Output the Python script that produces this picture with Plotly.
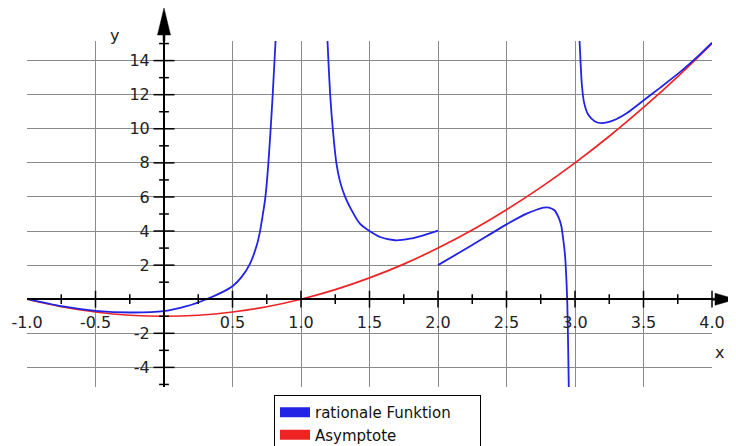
import plotly.graph_objects as go

# ---- data ----
# rationale Funktion (segments separated by None at poles / jump)
func_x = [-1.0, -0.75, -0.5, -0.24, 0.0, 0.165, 0.31, 0.43, 0.5, 0.567, 0.628, 0.677, 0.700, 0.720,
          0.737, 0.750, 0.762, 0.777, 0.792, 0.806, 0.816,
          None,
          1.192, 1.200, 1.213, 1.232, 1.258, 1.285, 1.320, 1.370, 1.430, 1.500, 1.577, 1.686, 1.796, 1.893, 2.0,
          None,
          2.0, 2.25, 2.5, 2.647, 2.72, 2.77, 2.81, 2.85, 2.88, 2.90, 2.915, 2.928, 2.938, 2.944, 2.95, 2.955,
          None,
          3.032, 3.040, 3.050, 3.066, 3.097, 3.146, 3.195, 3.28, 3.377, 3.49, 3.62, 3.77, 3.91, 4.0]
func_y = [0.02, -0.41, -0.68, -0.78, -0.70, -0.41, 0.0, 0.43, 0.76, 1.31, 2.09, 3.16, 3.95, 4.9,
          5.8, 6.8, 8.0, 9.8, 11.8, 13.9, 15.4,
          None,
          15.4, 14.0, 12.0, 10.0, 8.0, 6.9, 6.05, 5.21, 4.43, 4.0, 3.65, 3.46, 3.55, 3.75, 4.02,
          None,
          2.0, 3.18, 4.39, 5.02, 5.25, 5.37, 5.38, 5.22, 4.8, 4.3, 3.46, 2.5, 1.0, -0.3, -2.8, -5.4,
          None,
          15.4, 14.0, 12.6, 11.55, 10.82, 10.43, 10.33, 10.49, 10.91, 11.6, 12.4, 13.35, 14.35, 15.05]

# Asymptote
asym_x = [-1.0, -0.75, -0.5, -0.25, 0.0, 0.25, 0.5, 0.75, 1.0, 1.25, 1.5, 1.75, 2.0, 2.25, 2.5,
          2.75, 3.0, 3.25, 3.5, 3.75, 4.0]
asym_y = [0.0, -0.44, -0.75, -0.94, -1.0, -0.94, -0.75, -0.44, 0.0, 0.56, 1.25, 2.06, 3.0, 4.06,
          5.25, 6.56, 8.0, 9.56, 11.25, 13.06, 15.0]

# ticks
x_tickvals = [-1.0, -0.5, 0.5, 1.0, 1.5, 2.0, 2.5, 3.0, 3.5, 4.0]
x_ticktext = ["-1.0", "-0.5", "0.5", "1.0", "1.5", "2.0", "2.5", "3.0", "3.5", "4.0"]
x_minor = [-0.75, -0.25, 0.25, 0.75, 1.25, 1.75, 2.25, 2.75, 3.25, 3.75]
y_tickvals = [-4, -2, 2, 4, 6, 8, 10, 12, 14]
y_ticktext = ["-4", "-2", "2", "4", "6", "8", "10", "12", "14"]
y_minor = [-5, -3, -1, 1, 3, 5, 7, 9, 11, 13, 15]

series_names = ["rationale Funktion", "Asymptote"]
BLUE = "#2323e6"
RED = "#ee2424"

X_RANGE = [-1.0, 4.0]
Y_RANGE = [-5.15, 15.15]

fig = go.Figure()

# curves
fig.add_trace(go.Scatter(x=asym_x, y=asym_y, mode="lines", line=dict(color=RED, width=1.7, shape="spline", smoothing=0.8),
                         showlegend=False, hoverinfo="skip"))
fig.add_trace(go.Scatter(x=func_x, y=func_y, mode="lines", line=dict(color=BLUE, width=1.8, shape="spline", smoothing=0.7),
                         connectgaps=False, showlegend=False, hoverinfo="skip"))

# tick marks crossing the axes
x_major_marks = [v for v in x_tickvals if v > -1]
fig.add_trace(go.Scatter(x=x_major_marks, y=[0] * len(x_major_marks), mode="markers",
                         marker=dict(symbol="line-ns", size=12, line=dict(color="black", width=1.5)),
                         cliponaxis=False, showlegend=False, hoverinfo="skip"))
fig.add_trace(go.Scatter(x=x_minor, y=[0] * len(x_minor), mode="markers",
                         marker=dict(symbol="line-ns", size=7, line=dict(color="black", width=1.5)),
                         cliponaxis=False, showlegend=False, hoverinfo="skip"))
fig.add_trace(go.Scatter(x=[0] * len(y_tickvals), y=y_tickvals, mode="markers",
                         marker=dict(symbol="line-ew", size=15, line=dict(color="black", width=1.5)),
                         cliponaxis=False, showlegend=False, hoverinfo="skip"))
fig.add_trace(go.Scatter(x=[0] * len(y_minor), y=y_minor, mode="markers",
                         marker=dict(symbol="line-ew", size=7, line=dict(color="black", width=1.5)),
                         cliponaxis=False, showlegend=False, hoverinfo="skip"))

# legend entries
for name, col in zip(series_names, [BLUE, RED]):
    fig.add_trace(go.Scatter(x=[None], y=[None], mode="lines", name=name + "\u00a0" * 5,
                             line=dict(color=col, width=10)))

x_pos = (0 - X_RANGE[0]) / (X_RANGE[1] - X_RANGE[0])
y_pos = (0 - Y_RANGE[0]) / (Y_RANGE[1] - Y_RANGE[0])

# the page body adds an 8px offset; margins compensate so the plot lands where the reference has it
fig.update_layout(
    width=736, height=446, autosize=False,
    margin=dict(l=19, r=32, t=33, b=67, autoexpand=False),
    paper_bgcolor="white", plot_bgcolor="white",
    font=dict(family="DejaVu Sans", size=16, color="#222222"),
    xaxis=dict(range=X_RANGE, tickvals=x_tickvals, ticktext=x_ticktext,
               showgrid=True, gridcolor="#8a8a8a", gridwidth=1.4,
               zeroline=False, showline=True, linecolor="black", linewidth=2,
               anchor="free", position=y_pos, ticks="", ticklabelstandoff=9, automargin=False,
               tickfont=dict(family="DejaVu Sans", size=16, color="#222222"), fixedrange=True),
    yaxis=dict(range=Y_RANGE, tickvals=y_tickvals, ticktext=y_ticktext,
               showgrid=True, gridcolor="#8a8a8a", gridwidth=1.4,
               zeroline=False, showline=True, linecolor="black", linewidth=2,
               anchor="free", position=x_pos, ticks="", ticklabelstandoff=10, automargin=False,
               tickfont=dict(family="DejaVu Sans", size=16, color="#222222"), fixedrange=True),
    legend=dict(x=(274 - 27) / 685, y=(387 - 395) / 346, xanchor="left", yanchor="top",
                bordercolor="black", borderwidth=1, bgcolor="white",
                font=dict(family="DejaVu Sans", size=15, color="#111111"),
                tracegroupgap=0, itemwidth=30),
    showlegend=True,
)

# axis arrowheads (slender filled triangles, sized in pixels)
fig.add_shape(type="path", xref="x", yref="paper", xsizemode="pixel", ysizemode="pixel",
              xanchor=0, yanchor=1.0,
              path="M -1 0 L -1 6 L -6.5 6 L 0 33 L 6.5 6 L 1 6 L 1 0 Z",
              fillcolor="black", line=dict(color="black", width=0.5), layer="above")
fig.add_shape(type="path", xref="paper", yref="y", xsizemode="pixel", ysizemode="pixel",
              xanchor=1.0, yanchor=0,
              path="M 0 -1 L 3 -1 L 3 -6 L 24 0 L 3 6 L 3 1 L 0 1 Z",
              fillcolor="black", line=dict(color="black", width=0.5), layer="above")
# axis titles
fig.add_annotation(x=-0.358, y=1.017, xref="x", yref="paper", text="y", showarrow=False,
                   font=dict(family="DejaVu Sans", size=16, color="#222222"), yanchor="middle")
fig.add_annotation(x=1.02, y=-3.1, xref="paper", yref="y", text="x", showarrow=False,
                   font=dict(family="DejaVu Sans", size=16, color="#222222"))

fig.write_html("out.html")
